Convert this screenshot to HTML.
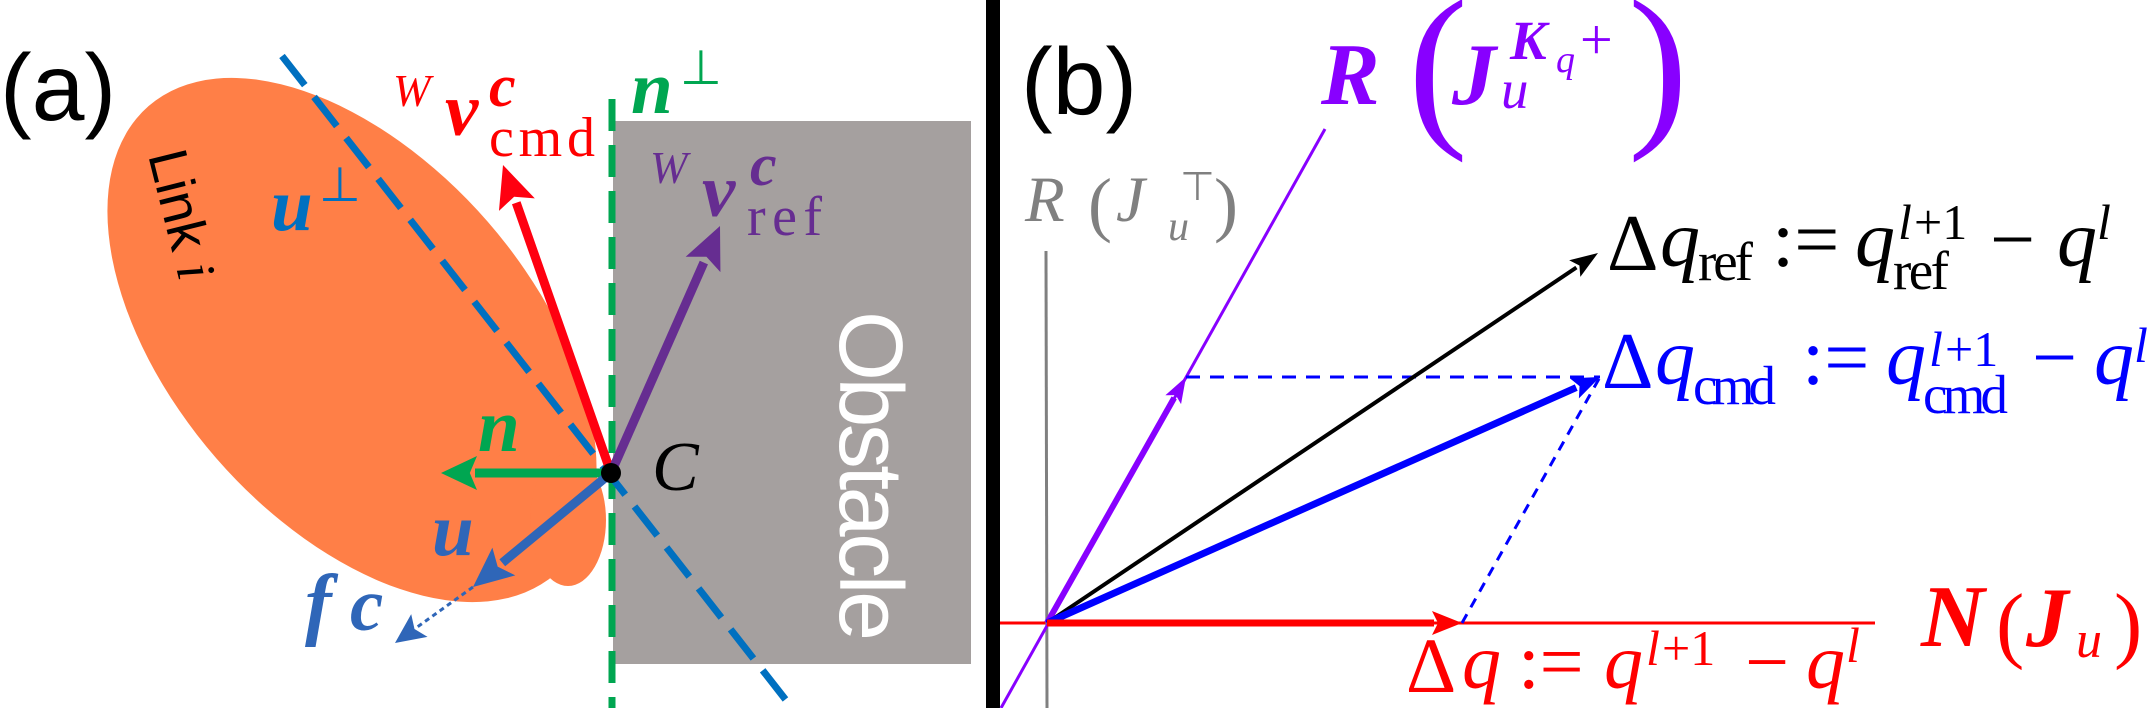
<!DOCTYPE html>
<html><head><meta charset="utf-8"><style>
html,body{margin:0;padding:0;background:#fff;}
svg{display:block;}
.ss{font-family:"Liberation Sans",sans-serif;}
.bi{font-family:"Liberation Serif",serif;font-style:italic;font-weight:bold;}
.it{font-family:"Liberation Serif",serif;font-style:italic;}
.rm{font-family:"Liberation Serif",serif;}
</style></head><body>
<svg id="fig" width="2152" height="708" viewBox="0 0 2152 708" xmlns="http://www.w3.org/2000/svg">
<g>
<text class="ss" x="0" y="120" font-size="95" fill="#000">(a)</text>
<ellipse cx="352" cy="340" rx="310" ry="180" transform="rotate(49 352 340)" fill="#FF7F47"/>
<ellipse cx="568" cy="520" rx="38" ry="66" fill="#FF7F47"/>
<rect x="613" y="121" width="358" height="543" fill="#A5A09F"/>
<text class="ss" transform="translate(840,311) rotate(90)" font-size="90" fill="#fff" textLength="330">Obstacle</text>
<line x1="612" y1="99" x2="612" y2="708" stroke="#00A651" stroke-width="7" stroke-dasharray="32 14"/>
<line x1="282" y1="56" x2="789" y2="704" stroke="#0070C0" stroke-width="7" stroke-dasharray="37 15"/>
<text class="ss" transform="translate(148,155) rotate(76)" font-size="55" fill="#000">Link <tspan class="it">i</tspan></text>
<g id="arrows-a"></g>
<circle cx="611" cy="473" r="10" fill="#000"/>
<g fill="#FF0000">
<text class="it" x="393" y="106" font-size="45">W</text>
<text class="bi" x="445" y="135" font-size="75">v</text>
<text class="bi" x="489" y="106" font-size="60">c</text>
<text class="rm" x="489" y="156" font-size="56" textLength="106">cmd</text>
</g>
<g fill="#662D91">
<text class="it" x="650" y="183" font-size="45">W</text>
<text class="bi" x="702" y="216" font-size="75">v</text>
<text class="bi" x="750" y="185" font-size="60">c</text>
<text class="rm" x="747" y="235" font-size="56" textLength="75">ref</text>
</g>
<g fill="#00A651">
<text class="bi" x="631" y="113" font-size="75">n</text>
<text class="rm" x="680" y="84" font-size="48">⊥</text>
</g>
<g fill="#0070C0">
<text class="bi" x="271" y="230" font-size="75">u</text>
<text class="rm" x="319" y="201" font-size="48">⊥</text>
</g>
<text class="bi" x="478" y="451" font-size="75" fill="#00A651">n</text>
<text class="it" x="652" y="490" font-size="70" fill="#000">C</text>
<text class="bi" x="432" y="555" font-size="75" fill="#2F66B8">u</text>
<g fill="#2F66B8">
<text class="bi" x="305" y="630" font-size="80">f</text>
<text class="bi" x="350" y="630" font-size="75">c</text>
</g>
</g>
<rect x="986" y="0" width="14" height="708" fill="#000"/>
<g>
<text class="ss" x="1021" y="114" font-size="95" fill="#000">(b)</text>
<line x1="1000" y1="623" x2="1875" y2="623" stroke="#FF0000" stroke-width="3"/>
<line x1="1046" y1="251" x2="1047" y2="708" stroke="#808080" stroke-width="3"/>
<line x1="1325" y1="129" x2="1001" y2="708" stroke="#8800FF" stroke-width="3"/>
<line x1="1186" y1="377" x2="1600" y2="377" stroke="#0000FF" stroke-width="3" stroke-dasharray="14 10"/>
<line x1="1462" y1="623" x2="1600" y2="377" stroke="#0000FF" stroke-width="3" stroke-dasharray="10 8"/>
<g id="arrows-b"></g>
<g fill="#808080">
<text class="it" x="1025" y="221" font-size="65">R</text>
<text class="rm" x="1088" y="228" font-size="72">(</text>
<text class="it" x="1116" y="221" font-size="65">J</text>
<text class="rm" x="1180" y="200" font-size="40">⊤</text>
<text class="it" x="1168" y="240" font-size="42">u</text>
<text class="rm" x="1214" y="228" font-size="72">)</text>
</g>
<g fill="#8800FF">
<text class="bi" x="1321" y="104" font-size="88">R</text>
<text class="rm" x="1408" y="124" font-size="180">(</text>
<text class="bi" x="1452" y="104" font-size="88">J</text>
<text class="bi" x="1510" y="59" font-size="55">K</text>
<text class="it" x="1556" y="72" font-size="38">q</text>
<text class="rm" x="1580" y="59" font-size="58">+</text>
<text class="it" x="1501" y="108" font-size="55">u</text>
<text class="rm" x="1628" y="124" font-size="180">)</text>
</g>
<g fill="#000">
<text class="rm" x="1607" y="270" font-size="80">Δ</text>
<text class="it" x="1660" y="266" font-size="80">q</text>
<text class="rm" x="1698" y="280" font-size="55" textLength="55">ref</text>
<text class="rm" x="1772" y="266" font-size="80">:=</text>
<text class="it" x="1855" y="266" font-size="80">q</text>
<text class="it" x="1898" y="239" font-size="50">l</text>
<text class="rm" x="1914" y="239" font-size="50">+1</text>
<text class="rm" x="1893" y="289" font-size="55" textLength="56">ref</text>
<text class="rm" x="1990" y="266" font-size="80">−</text>
<text class="it" x="2057" y="266" font-size="80">q</text>
<text class="it" x="2097" y="239" font-size="50">l</text>
</g>
<g fill="#0000FF">
<text class="rm" x="1602" y="388" font-size="80">Δ</text>
<text class="it" x="1655" y="384" font-size="80">q</text>
<text class="rm" x="1693" y="404" font-size="55" textLength="83">cmd</text>
<text class="rm" x="1802" y="384" font-size="80">:=</text>
<text class="it" x="1886" y="384" font-size="80">q</text>
<text class="it" x="1929" y="366" font-size="50">l</text>
<text class="rm" x="1945" y="366" font-size="50">+1</text>
<text class="rm" x="1923" y="413" font-size="55" textLength="85">cmd</text>
<text class="rm" x="2032" y="384" font-size="80">−</text>
<text class="it" x="2094" y="384" font-size="80">q</text>
<text class="it" x="2134" y="362" font-size="50">l</text>
</g>
<g fill="#FF0000">
<text class="rm" x="1406" y="692" font-size="78">Δ</text>
<text class="it" x="1462" y="688" font-size="78">q</text>
<text class="rm" x="1518" y="688" font-size="78">:=</text>
<text class="it" x="1604" y="688" font-size="78">q</text>
<text class="it" x="1646" y="665" font-size="50">l</text>
<text class="rm" x="1662" y="665" font-size="50">+1</text>
<text class="rm" x="1745" y="688" font-size="78">−</text>
<text class="it" x="1806" y="688" font-size="78">q</text>
<text class="it" x="1846" y="662" font-size="50">l</text>
</g>
<g fill="#FF0000">
<text class="bi" x="1921" y="646" font-size="88">N</text>
<text class="rm" x="1996" y="652" font-size="85">(</text>
<text class="bi" x="2026" y="646" font-size="85">J</text>
<text class="it" x="2076" y="657" font-size="52">u</text>
<text class="rm" x="2114" y="652" font-size="85">)</text>
</g>
</g>
</svg>
<script>
var NS = "http://www.w3.org/2000/svg";
function arrow(parent, x1, y1, x2, y2, w, L, H, color, name, dash) {
  var dx = x2 - x1, dy = y2 - y1, len = Math.sqrt(dx*dx + dy*dy);
  var ux = dx/len, uy = dy/len, nx = -uy, ny = ux;
  var bx = x2 - ux*L, by = y2 - uy*L;
  var g = document.createElementNS(NS, "g");
  
  
  var ln = document.createElementNS(NS, "line");
  ln.setAttribute("x1", x1); ln.setAttribute("y1", y1);
  ln.setAttribute("x2", bx + ux*2); ln.setAttribute("y2", by + uy*2);
  ln.setAttribute("stroke", color); ln.setAttribute("stroke-width", w);
  if (dash) ln.setAttribute("stroke-dasharray", dash);
  
  
  g.appendChild(ln);
  var p = document.createElementNS(NS, "polygon");
  p.setAttribute("points", x2 + "," + y2 + " " + (bx + nx*H) + "," + (by + ny*H) + " " + (bx + ux*L*0.2) + "," + (by + uy*L*0.2) + " " + (bx - nx*H) + "," + (by - ny*H));
  p.setAttribute("fill", color);
  
  
  g.appendChild(p);
  parent.appendChild(g);
}
var A = document.getElementById("arrows-a");
arrow(A, 611, 473, 503, 165, 9, 42, 19, "#FF0010", "v-cmd-arrow");
arrow(A, 611, 473, 720, 226, 9, 42, 19, "#662D91", "v-ref-arrow");
arrow(A, 611, 473, 441, 473, 9, 36, 17, "#00A651", "n-arrow");
arrow(A, 611, 473, 473, 587, 9, 40, 18, "#2F66B8", "u-arrow");
arrow(A, 473, 587, 395, 643, 3, 30, 14, "#2F66B8", "fc-arrow", "5 4");
var B = document.getElementById("arrows-b");
arrow(B, 1047, 623, 1186, 377, 6, 26, 9, "#8800FF", "range-projection-arrow");
arrow(B, 1047, 623, 1598, 253, 4, 28, 10, "#000000", "dq-ref-arrow");
arrow(B, 1047, 623, 1600, 377, 7, 28, 11, "#0000FF", "dq-cmd-arrow");
arrow(B, 1047, 623, 1462, 623, 7, 30, 12, "#FF0000", "dq-arrow");
</script>
</body></html>
